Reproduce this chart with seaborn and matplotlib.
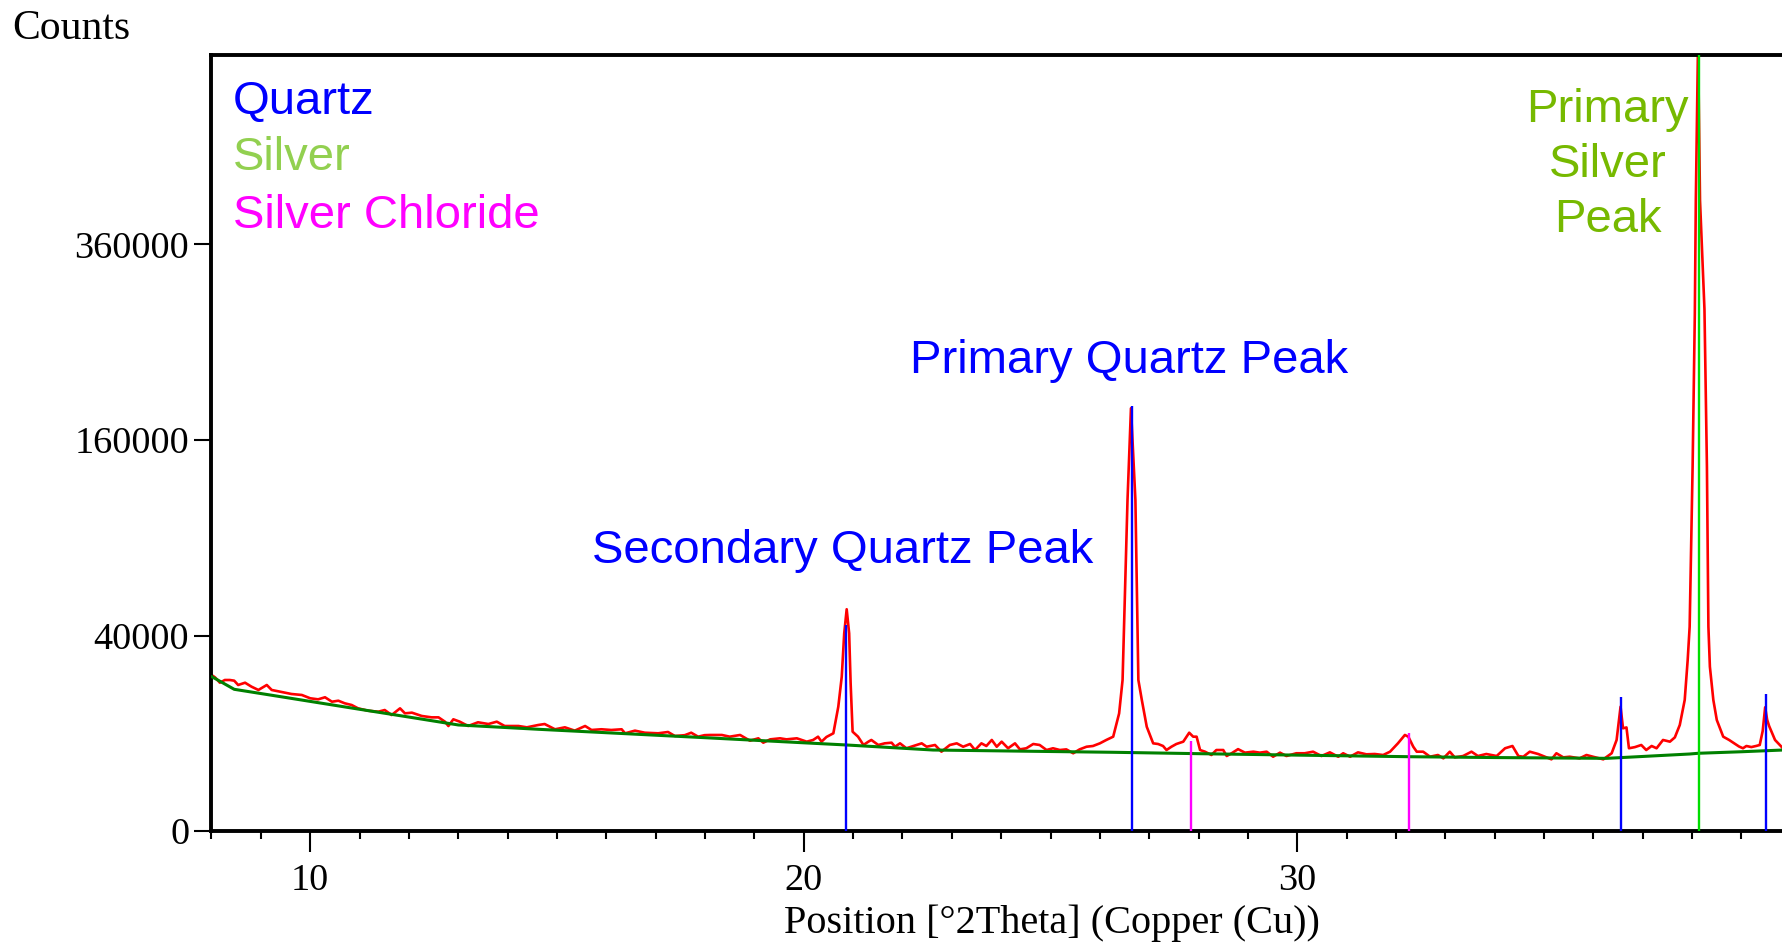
import numpy as np
import pandas as pd
import matplotlib
matplotlib.use("Agg")
import matplotlib.pyplot as plt
import seaborn as sns
from matplotlib.ticker import MultipleLocator, NullLocator

# ---------------- data ----------------
# observed pattern (2theta, counts)
observed = [
    (8.02, 25300), (8.07, 24770), (8.17, 23050), (8.27, 23900), (8.37, 23900), (8.46, 23690),
    (8.54, 22350), (8.68, 23050), (8.81, 21840), (8.95, 20850), (9.12, 22350), (9.22, 20850),
    (9.39, 20340), (9.62, 19680), (9.83, 19400), (10.0, 18470), (10.16, 18180), (10.3, 18750),
    (10.44, 17530), (10.57, 17800), (10.70, 17100), (10.84, 16650), (10.97, 15780), (11.17, 15180),
    (11.38, 14930), (11.51, 15350), (11.65, 14110), (11.82, 15780), (11.92, 14520), (12.06, 14690),
    (12.26, 13880), (12.46, 13550), (12.6, 13550), (12.73, 12540), (12.80, 11570), (12.9, 13090),
    (13.03, 12540), (13.2, 11570), (13.4, 12400), (13.61, 12010), (13.78, 12540), (13.94, 11570),
    (14.22, 11570), (14.39, 11280), (14.62, 11790), (14.75, 12010), (14.96, 10860), (15.16, 11280),
    (15.36, 10570), (15.57, 11570), (15.70, 10710), (15.90, 10860), (16.1, 10710), (16.31, 10860),
    (16.38, 10020), (16.58, 10570), (16.78, 10140), (17.05, 10020), (17.25, 10290), (17.39, 9470),
    (17.59, 9640), (17.72, 10140), (17.86, 9340), (17.99, 9640), (18.10, 9680), (18.34, 9680),
    (18.50, 9340), (18.71, 9680), (18.91, 8560), (19.08, 9020), (19.18, 8190), (19.32, 8820),
    (19.52, 9020), (19.65, 8820), (19.86, 9020), (20.06, 8380), (20.19, 8700), (20.29, 9340),
    (20.36, 8380), (20.46, 9280), (20.6, 10020), (20.70, 16200), (20.77, 24960), (20.82, 40940),
    (20.87, 51500), (20.92, 40940), (20.95, 22870), (20.99, 10350), (21.10, 9340), (21.21, 7770),
    (21.31, 8380), (21.37, 8700), (21.51, 7770), (21.64, 8070), (21.78, 8190), (21.85, 7460),
    (21.95, 8070), (22.08, 7190), (22.22, 7590), (22.39, 8070), (22.49, 7460), (22.66, 7770),
    (22.79, 6610), (22.96, 7770), (23.10, 8070), (23.23, 7460), (23.37, 7950), (23.47, 6890),
    (23.60, 8070), (23.70, 7590), (23.81, 8700), (23.91, 7460), (24.01, 8380), (24.14, 7190),
    (24.28, 8070), (24.38, 7000), (24.51, 7190), (24.65, 7950), (24.78, 7770), (24.92, 6890),
    (25.05, 7190), (25.19, 6890), (25.32, 7000), (25.46, 6350), (25.59, 7000), (25.73, 7460),
    (25.86, 7590), (26.0, 8070), (26.13, 8700), (26.27, 9340), (26.39, 14500), (26.46, 23900),
    (26.56, 114700), (26.63, 187000), (26.72, 114700), (26.78, 23900), (26.85, 18000), (26.95, 11400),
    (27.08, 8070), (27.18, 7950), (27.28, 7590), (27.35, 6890), (27.45, 7460), (27.55, 7950),
    (27.69, 8380), (27.81, 10140), (27.89, 9340), (27.96, 9340), (28.03, 6890), (28.13, 6610),
    (28.26, 6070), (28.36, 6890), (28.50, 6890), (28.57, 5910), (28.67, 6350), (28.80, 7040),
    (28.94, 6450), (29.11, 6610), (29.24, 6450), (29.38, 6610), (29.51, 5800), (29.65, 6450),
    (29.78, 5910), (29.98, 6350), (30.15, 6350), (30.32, 6610), (30.49, 5910), (30.66, 6500),
    (30.83, 5800), (30.93, 6350), (31.07, 5800), (31.23, 6500), (31.40, 6180), (31.57, 6230),
    (31.74, 6070), (31.88, 6610), (32.04, 8080), (32.18, 9680), (32.25, 9340), (32.35, 7460),
    (32.42, 6610), (32.55, 6610), (32.69, 5800), (32.85, 6070), (32.96, 5550), (33.09, 6610),
    (33.19, 5700), (33.36, 5910), (33.53, 6610), (33.66, 5910), (33.83, 6230), (34.04, 5910),
    (34.21, 7190), (34.36, 7590), (34.48, 5910), (34.58, 5800), (34.71, 6610), (34.88, 6230),
    (35.02, 5800), (35.15, 5400), (35.25, 6350), (35.39, 5700), (35.52, 5800), (35.72, 5550),
    (35.86, 6070), (35.99, 5800), (36.20, 5400), (36.37, 6350), (36.47, 8700), (36.55, 16200),
    (36.60, 11070), (36.67, 11250), (36.72, 7190), (36.84, 7390), (36.97, 7770), (37.07, 6890),
    (37.18, 7590), (37.28, 7190), (37.41, 8700), (37.55, 8380), (37.65, 9200), (37.75, 11790),
    (37.85, 18000), (37.91, 30600), (37.95, 43700), (38.01, 138900), (38.055, 280000), (38.075, 416000),
    (38.12, 650000), (38.16, 416000), (38.25, 285000), (38.30, 138900), (38.33, 43700), (38.36, 28300),
    (38.43, 18000), (38.50, 12930), (38.63, 9340),
    (38.75, 8700), (38.85, 8080), (38.95, 7500), (39.03, 7190), (39.10, 7590), (39.20, 7400),
    (39.30, 7600), (39.37, 7770), (39.43, 10500), (39.48, 16050), (39.52, 13000), (39.56, 11570),
    (39.68, 8700), (39.84, 7190),
]

# fitted background
bg_theta = [8.0, 8.07, 8.46, 9.5, 10.97, 12.0, 13.0, 14.62, 16.0, 18.0, 20.0, 20.87, 22.62,
            24.5, 26.27, 28.03, 30.0, 32.28, 34.0, 36.27, 37.0, 37.95, 38.13, 39.0, 39.84]
bg_counts = [25000, 24400, 21050, 18700, 15600, 13620, 11800, 10860, 10140, 9140, 8170, 7770, 6890,
             6690, 6510, 6280, 6050, 5800, 5670, 5550, 5840, 6230, 6350, 6600, 6890]

# reference stick patterns
quartz_pos = [20.86, 26.65, 36.55, 39.49]
quartz_int = [44450, 189300, 18800, 19700]
silver_pos = [38.13]
silver_int = [700000]
agcl_pos = [27.84, 32.26]
agcl_int = [8560, 10140]

y_ticks = [0, 40000, 160000, 360000]
x_ticks = [10, 20, 30]

# ---------------- plot ----------------
sns.set_theme(style="white")
plt.rcParams["font.family"] = ["Liberation Serif", "DejaVu Serif"]
SANS = ["Liberation Sans", "DejaVu Sans"]

obs_df = pd.DataFrame(observed, columns=["theta", "counts"])
bg_df = pd.DataFrame({"theta": bg_theta, "counts": bg_counts})

W, H = 1783, 946
fig = plt.figure(figsize=(W / 100, H / 100), dpi=100)
ax = fig.add_axes([211.5 / W, 1 - 831.2 / H, (1892 - 211.5) / W, (831.2 - 54.6) / H])

ax.set_yscale("function", functions=(lambda v: np.sqrt(np.clip(v, 0, None)), lambda v: np.square(v)))

sns.lineplot(data=obs_df, x="theta", y="counts", estimator=None, sort=False,
             color="#ff0000", lw=1.9, ax=ax, zorder=2)
sns.lineplot(data=bg_df, x="theta", y="counts", estimator=None, sort=False,
             color="#008000", lw=2.2, ax=ax, zorder=3)

ax.vlines(quartz_pos, 0, quartz_int, colors="#0000ff", lw=1.7, zorder=4)
ax.vlines(silver_pos, 0, silver_int, colors="#00dd00", lw=1.7, zorder=4)
ax.vlines(agcl_pos, 0, agcl_int, colors="#ff00ff", lw=1.7, zorder=4)

ax.set_xlim(8, 42.05)
ax.set_ylim(0, 630500)

ax.set_yticks(y_ticks)
ax.set_yticklabels([str(v) for v in y_ticks])
ax.yaxis.set_minor_locator(NullLocator())
ax.set_xticks(x_ticks)
ax.set_xticklabels([str(v) for v in x_ticks])
ax.xaxis.set_minor_locator(MultipleLocator(1))

ax.tick_params(axis="y", which="major", direction="out", length=12, width=1.5,
               labelsize=27.5, pad=4, left=True, color="black", labelcolor="black")
ax.tick_params(axis="x", which="major", direction="out", length=15, width=1.5,
               labelsize=27.5, pad=8, bottom=True, color="black", labelcolor="black")
ax.tick_params(axis="x", which="minor", direction="out", length=6, width=1.5,
               bottom=True, color="black")

for s in ax.spines.values():
    s.set_linewidth(2.8)
    s.set_color("black")

ax.set_xlabel("Position [°2Theta] (Copper (Cu))", fontsize=29, color="black", labelpad=5)
ax.set_ylabel("")
fig.text(12 / W, 1 - 29 / H, "Counts", fontsize=30, ha="left", va="center", color="black")

# phase legend
ax.text(0.0128, 0.9394, "Quartz", transform=ax.transAxes, fontsize=34, family=SANS,
        color="#0000ff", ha="left", va="center")
ax.text(0.0128, 0.8667, "Silver", transform=ax.transAxes, fontsize=34, family=SANS,
        color="#92d050", ha="left", va="center")
ax.text(0.0128, 0.792, "Silver Chloride", transform=ax.transAxes, fontsize=34, family=SANS,
        color="#ff00ff", ha="left", va="center")

# annotations
ax.text(26.59, 230700, "Primary Quartz Peak", fontsize=34, family=SANS,
        color="#0000ff", ha="center", va="center")
ax.text(20.79, 81800, "Secondary Quartz Peak", fontsize=34, family=SANS,
        color="#0000ff", ha="center", va="center")
ax.text(36.29, 464000, "Primary\nSilver\nPeak", fontsize=34, family=SANS,
        color="#76b900", ha="center", va="center", linespacing=1.33)

fig.savefig("out.png", dpi=100)
